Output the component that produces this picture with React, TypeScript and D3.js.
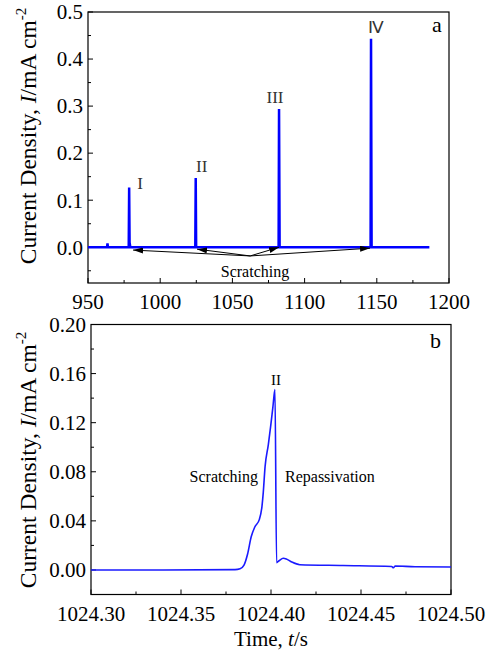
import React from "react";
import * as d3 from "d3";

// panel a: whole record, spikes at each scratch
const topTime = [950, 963.2, 963.5, 963.8, 978.2, 978.5, 978.8, 979.3, 1024.3, 1024.6, 1024.9, 1082.0, 1082.3, 1082.7, 1145.7, 1146.0, 1146.4, 1186.4];
const topCurrent = [0, 0, 0.008, 0, 0, 0.127, 0.01, 0, 0, 0.147, 0, 0, 0.294, 0, 0, 0.443, 0, 0];
const topPeakTime = [978.5, 1024.6, 1082.3, 1146.0];
const topPeakCurrent = [0.127, 0.147, 0.294, 0.443];
const peakNames = ["I", "II", "III", "Ⅳ"];
const scratchTargets = [981.2, 1025.5, 1082.3, 1145.3];
const scratchTargetCurrent = [-0.006, -0.004, 0, -0.002];

// panel b: zoom on scratch II
const bTime = [1024.30, 1024.34, 1024.38, 1024.3828, 1024.385, 1024.387, 1024.389, 1024.391, 1024.3935, 1024.395, 1024.3957, 1024.3967, 1024.3985, 1024.3998, 1024.401, 1024.4022, 1024.4031, 1024.4045, 1024.4068, 1024.4085, 1024.4115, 1024.416, 1024.44, 1024.467, 1024.468, 1024.469, 1024.48, 1024.50];
const bCurrent = [0, 0, 0.0003, 0.001, 0.004, 0.013, 0.027, 0.035, 0.041, 0.052, 0.063, 0.084, 0.102, 0.117, 0.132, 0.147, 0.006, 0.0075, 0.0095, 0.009, 0.0065, 0.0043, 0.0036, 0.0028, 0.0018, 0.0032, 0.0026, 0.0024];

const topXTicks = [950, 1000, 1050, 1100, 1150, 1200];
const topXMinor = [975, 1025, 1075, 1125, 1175];
const topYTicks = [0, 0.1, 0.2, 0.3, 0.4, 0.5];
const topYMinor = [-0.05, 0.05, 0.15, 0.25, 0.35, 0.45];
const bXTicks = [1024.3, 1024.35, 1024.4, 1024.45, 1024.5];
const bXMinor = [1024.325, 1024.375, 1024.425, 1024.475];
const bYTicks = [0, 0.04, 0.08, 0.12, 0.16, 0.2];
const bYMinor = [0.02, 0.06, 0.1, 0.14, 0.18];

const serif = "'Liberation Serif', 'Times New Roman', serif";

function YTitle({ cx, cy }: { cx: number; cy: number }) {
  return (
    <text transform={`translate(${cx},${cy}) rotate(-90)`} textAnchor="middle" fontSize={23.5} dy="0.35em">
      Current Density, <tspan fontStyle="italic">I</tspan>/mA cm
      <tspan fontSize={15} dy={-10}>-2</tspan>
    </text>
  );
}

function Frame({ x, y, fmtX, fmtY, xt, xm, yt, ym }: any) {
  const [x0, x1] = x.range();
  const [y0, y1] = y.range();
  return (
    <g>
      <rect x={x0} y={y1} width={x1 - x0} height={y0 - y1} fill="none" stroke="#000" strokeWidth={1.2} />
      {xt.map((t: number) => (
        <g key={"xt" + t}>
          <line x1={x(t)} x2={x(t)} y1={y0} y2={y0 - 5} stroke="#000" />
          <text x={x(t)} y={y0 + 26} textAnchor="middle" fontSize={21}>{fmtX(t)}</text>
        </g>
      ))}
      {xm.map((t: number) => (
        <line key={"xm" + t} x1={x(t)} x2={x(t)} y1={y0} y2={y0 - 3} stroke="#000" />
      ))}
      {yt.map((t: number) => (
        <g key={"yt" + t}>
          <line x1={x0} x2={x0 + 5} y1={y(t)} y2={y(t)} stroke="#000" />
          <text x={x0 - 5} y={y(t)} dy="0.35em" textAnchor="end" fontSize={21}>{fmtY(t)}</text>
        </g>
      ))}
      {ym.map((t: number) => (
        <line key={"ym" + t} x1={x0} x2={x0 + 3} y1={y(t)} y2={y(t)} stroke="#000" />
      ))}
    </g>
  );
}

export default function App() {
  const xA = d3.scaleLinear().domain([950, 1200]).range([88, 449]);
  const yA = d3.scaleLinear().domain([-0.076, 0.5]).range([283, 12]);
  const xB = d3.scaleLinear().domain([1024.3, 1024.5]).range([91, 451]);
  const yB = d3.scaleLinear().domain([-0.02, 0.2]).range([594.5, 324.5]);

  const lineA = d3.line<number>().x((d, i) => xA(topTime[i])).y((d) => yA(d));
  const lineB = d3
    .line<number>()
    .x((d, i) => xB(bTime[i]))
    .y((d) => yB(d))
    .curve(d3.curveMonotoneX);

  const apexX = xA(1062.3);
  const apexY = yA(-0.0185);
  // label nudges so they sit beside the spikes like the original
  const nameDx = [11, 6, -4, 5];
  const nameDy = [-2, 6, 6, 6];

  return (
    <svg width={494} height={651} style={{ position: "absolute", left: 0, top: 0, background: "#fff", fontFamily: serif }}>
      <defs>
        <marker id="arr" viewBox="0 0 10 6" refX={10} refY={3} markerWidth={10} markerHeight={6} markerUnits="userSpaceOnUse" orient="auto">
          <path d="M0,0 L10,3 L0,6 Z" fill="#000" />
        </marker>
      </defs>

      {/* panel a */}
      <Frame x={xA} y={yA} fmtX={d3.format("d")} fmtY={d3.format(".1f")} xt={topXTicks} xm={topXMinor} yt={topYTicks} ym={topYMinor} />
      <path d={lineA(topCurrent) || ""} fill="none" stroke="#0000ff" strokeWidth={2.5} />
      {peakNames.map((n, i) => (
        <text key={n} x={xA(topPeakTime[i]) + nameDx[i]} y={yA(topPeakCurrent[i]) - nameDy[i]} textAnchor="middle" fontSize={17} fill="#333">
          {n}
        </text>
      ))}
      {scratchTargets.map((t, i) => (
        <line key={t} x1={apexX} y1={apexY} x2={xA(t)} y2={yA(scratchTargetCurrent[i])} stroke="#000" strokeWidth={1} markerEnd="url(#arr)" />
      ))}
      <text x={255} y={277} textAnchor="middle" fontSize={16}>Scratching</text>
      <text x={432} y={32} fontSize={22}>a</text>
      <YTitle cx={28} cy={136} />

      {/* panel b */}
      <Frame x={xB} y={yB} fmtX={d3.format(".2f")} fmtY={d3.format(".2f")} xt={bXTicks} xm={bXMinor} yt={bYTicks} ym={bYMinor} />
      <path d={lineB(bCurrent) || ""} fill="none" stroke="#1a1aff" strokeWidth={1.6} />
      <text x={276} y={385} textAnchor="middle" fontSize={15}>II</text>
      <text x={258} y={482} textAnchor="end" fontSize={16}>Scratching</text>
      <text x={285} y={482} fontSize={16}>Repassivation</text>
      <text x={430} y={348} fontSize={22}>b</text>
      <YTitle cx={28} cy={460} />
      <text x={271} y={646} textAnchor="middle" fontSize={21}>
        Time, <tspan fontStyle="italic">t</tspan>/s
      </text>
    </svg>
  );
}
